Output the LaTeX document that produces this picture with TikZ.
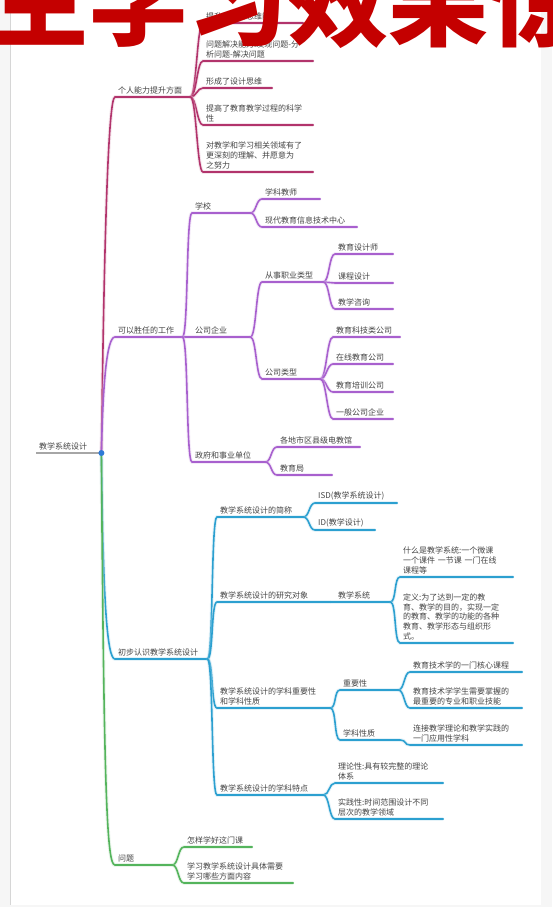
\documentclass[tikz,border=0pt]{standalone}
\usepackage{fontspec}
\setmainfont{Noto Sans CJK SC}
\newfontfamily\wmfont{Noto Sans CJK SC}
\definecolor{crim}{RGB}{178,52,108}
\definecolor{purp}{RGB}{168,96,206}
\definecolor{sky}{RGB}{44,160,208}
\definecolor{leaf}{RGB}{84,180,92}
\definecolor{dotblue}{RGB}{46,122,214}
\definecolor{txt}{RGB}{68,68,68}
\definecolor{pagebg}{RGB}{246,246,246}
\definecolor{framegray}{RGB}{214,214,214}
\definecolor{wmred}{RGB}{196,0,0}
\tikzset{
  tp/.style={anchor=south west, inner xsep=3pt, inner ysep=2.6pt, align=left,
    font=\fontsize{8}{9.8}\selectfont, text=txt},
  ln/.style={draw=#1, line width=1.6pt, line cap=round,
    preaction={draw=#1!35, line width=3.6pt, opacity=.35}},
  crimln/.style={ln=crim},
  purpln/.style={ln=purp},
  skyln/.style={ln=sky},
  leafln/.style={ln=leaf},
  rootln/.style={draw=gray!70, line width=1.4pt},
  dotnode/.style={circle, fill=dotblue, inner sep=0pt, minimum size=6pt},
  wm/.style={anchor=base west, inner sep=0pt, text=wmred,
    font=\wmfont\bfseries\fontsize{100}{100}\selectfont}
}
\begin{document}
\begin{tikzpicture}[x=1pt,y=-1pt]
\useasboundingbox (0,0) rectangle (552,907);
\fill[pagebg] (0,0) rectangle (552,907);
\fill[white] (11,0) rectangle (541,905);
\draw[framegray] (10.5,0) -- (10.5,905);

% root
\node[tp, text width=59pt] (root) at (36,453) {教学系统设计};

% first branch
\node[tp, text width=69pt] (a) at (115,97) {个人能力提升方面};
\node[tp, text width=94pt] (a1) at (203,23) {提升了逻辑思维能力};
\node[tp, text width=104pt] (a2) at (203,61) {问题解决能力:发现问题-分\\析问题-解决问题};
\node[tp, text width=63pt] (a3) at (203,88) {形成了设计思维};
\node[tp, text width=104pt] (a4) at (203,125) {提高了教育教学过程的科学\\性};
\node[tp, text width=104pt] (a5) at (203,172) {对教学和学习相关领域有了\\更深刻的理解、并愿意为\\之努力};

% second branch
\node[tp, text width=61pt] (b) at (115,337) {可以胜任的工作};
\node[tp, text width=52pt] (b1) at (192,213) {学校};
\node[tp, text width=52pt] (b11) at (262,199) {学科教师};
\node[tp, text width=89pt] (b12) at (262,227) {现代教育信息技术中心};
\node[tp, text width=52pt] (b2) at (192,337) {公司企业};
\node[tp, text width=55pt] (b21) at (262,282) {从事职业类型};
\node[tp, text width=52pt] (b211) at (335,254) {教育设计师};
\node[tp, text width=52pt] (b212) at (335,283) {课程设计};
\node[tp, text width=52pt] (b213) at (335,309) {教学咨询};
\node[tp, text width=52pt] (b22) at (262,379) {公司类型};
\node[tp, text width=61pt] (b221) at (333,337) {教育科技类公司};
\node[tp, text width=54pt] (b222) at (333,364) {在线教育公司};
\node[tp, text width=54pt] (b223) at (333,392) {教育培训公司};
\node[tp, text width=54pt] (b224) at (333,419) {一般公司企业};
\node[tp, text width=67pt] (b3) at (192,462) {政府和事业单位};
\node[tp, text width=77pt] (b31) at (277,447) {各地市区县级电教馆};
\node[tp, text width=49pt] (b32) at (277,475) {教育局};

% third branch
\node[tp, text width=86pt] (c) at (115,659) {初步认识教学系统设计};
\node[tp, text width=80pt] (c1) at (217,517) {教学系统设计的简称};
\node[tp, text width=76pt] (c11) at (315,503) {ISD(教学系统设计)};
\node[tp, text width=54pt] (c12) at (315,530) {ID(教学设计)};
\node[tp, text width=107pt] (c2) at (217,602) {教学系统设计的研究对象};
\node[tp, text width=49pt] (c21) at (335,602) {教学系统};
\node[tp, text width=107pt] (c211) at (400,577) {什么是教学系统:一个微课\\一个课件 一节课 一门在线\\课程等};
\node[tp, text width=107pt] (c212) at (400,643) {定义:为了达到一定的教\\育、教学的目的，实现一定\\的教育、教学的功能的各种\\教育、教学形态与组织形\\式。};
\node[tp, text width=107pt] (c3) at (217,708) {教学系统设计的学科重要性\\和学科性质};
\node[tp, text width=52pt] (c31) at (340,690) {重要性};
\node[tp, text width=106pt] (c311) at (410,672) {教育技术学的一门核心课程};
\node[tp, text width=106pt] (c312) at (410,708) {教育技术学学生需要掌握的\\最重要的专业和职业技能};
\node[tp, text width=54pt] (c32) at (340,740) {学科性质};
\node[tp, text width=106pt] (c321) at (410,745) {连接教学理论和教学实践的\\一门应用性学科};
\node[tp, text width=100pt] (c4) at (217,795) {教学系统设计的学科特点};
\node[tp, text width=102pt] (c41) at (335,783) {理论性:具有较完整的理论\\体系};
\node[tp, text width=102pt] (c42) at (335,819) {实践性:时间范围设计不同\\层次的教学领域};

% fourth branch
\node[tp, text width=51pt] (d) at (115,865) {问题};
\node[tp, text width=62pt] (d1) at (184,847) {怎样学好这门课};
\node[tp, text width=103pt] (d2) at (184,883) {学习教学系统设计具体需要\\学习哪些方面内容};

% lines from the root
\draw[crimln] (root.south east) .. controls (104,250) and (108,97) .. (a.south west) -- (a.south east);
\draw[purpln] (root.south east) .. controls (103,380) and (107,337) .. (b.south west) -- (b.south east);
\draw[skyln] (root.south east) .. controls (103,600) and (107,659) .. (c.south west) -- (c.south east);
\draw[leafln] (root.south east) .. controls (104,800) and (107,865) .. (d.south west) -- (d.south east);
\draw[rootln] (root.south west) -- (root.south east);
\node[dotnode] (dot) at (root.south east) {};

% children
\foreach \p/\c in {a/a1,a/a2,a/a3,a/a4,a/a5}
  \draw[crimln] (\p.south east) .. controls +(6,0) and +(-6,0) .. (\c.south west) -- (\c.south east);
\foreach \p/\c in {b/b1,b/b2,b/b3,b1/b11,b1/b12,b2/b21,b2/b22,b21/b211,b21/b212,b21/b213,
    b22/b221,b22/b222,b22/b223,b22/b224,b3/b31,b3/b32}
  \draw[purpln] (\p.south east) .. controls +(6,0) and +(-6,0) .. (\c.south west) -- (\c.south east);
\foreach \p/\c in {c/c1,c/c2,c/c3,c/c4,c1/c11,c1/c12,c2/c21,c21/c211,c21/c212,
    c3/c31,c3/c32,c31/c311,c31/c312,c32/c321,c4/c41,c4/c42}
  \draw[skyln] (\p.south east) .. controls +(6,0) and +(-6,0) .. (\c.south west) -- (\c.south east);
\foreach \p/\c in {d/d1,d/d2}
  \draw[leafln] (\p.south east) .. controls +(6,0) and +(-6,0) .. (\c.south west) -- (\c.south east);

% red banner text across the top
\begin{scope}
\clip (0,0) rectangle (552,907);
\node[wm] (banner) at (-12,38) {生学习效果惊};
\end{scope}
\end{tikzpicture}
\end{document}
